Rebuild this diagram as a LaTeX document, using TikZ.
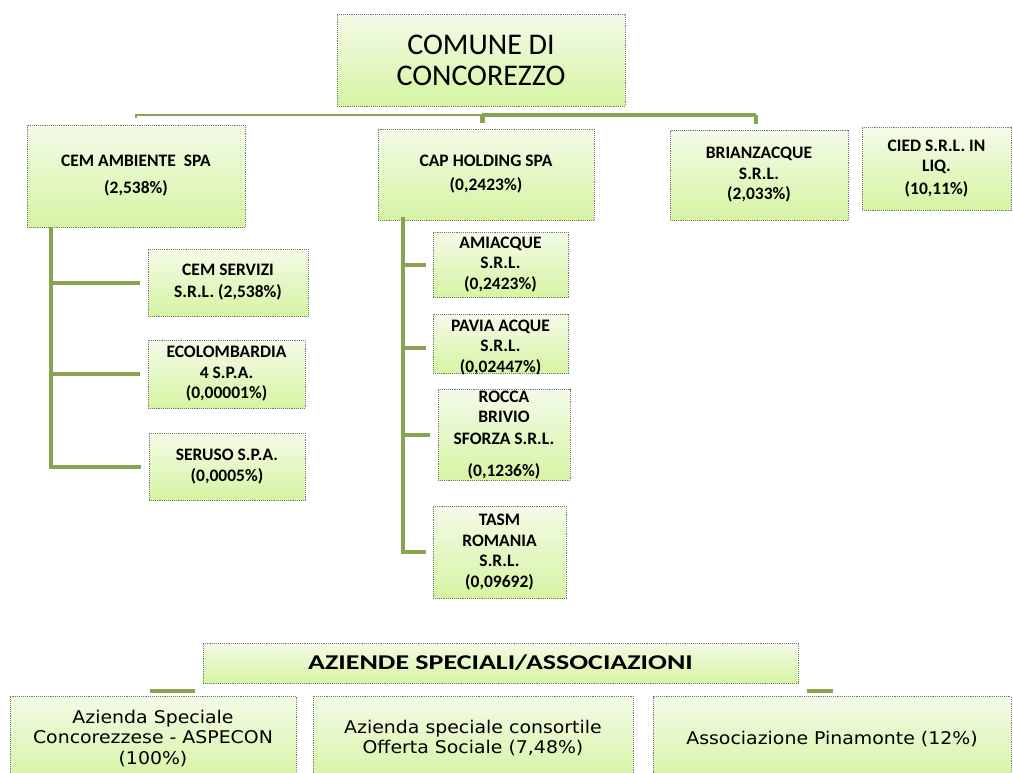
\documentclass[tikz,border=0pt]{standalone}
\usepackage{fontspec}
\setmainfont{Carlito}
\newfontfamily\boxfont{Carlito}
\newfontfamily\headfont[FakeStretch=1.33]{Carlito}
\newfontfamily\verdfont[FakeStretch=1.08]{DejaVu Sans}
\definecolor{lnk}{RGB}{137,164,78}
\definecolor{boxtop}{RGB}{243,251,232}
\definecolor{boxbot}{RGB}{214,244,163}
\definecolor{boxline}{RGB}{120,120,120}
\tikzset{
  orgbox/.style={rectangle, draw=boxline, densely dotted, line width=0.9pt,
    top color=boxtop, bottom color=boxbot, align=center, inner sep=1pt,
    font=\boxfont\bfseries\fontsize{17.5}{20.5}\selectfont},
  plainbox/.style={orgbox},
  boxtext/.style={align=center, inner sep=0pt, font=\boxfont\bfseries\fontsize{17.5}{20.5}\selectfont},
  bigbox/.style={orgbox, font=\fontsize{30}{31}\selectfont},
  headbox/.style={orgbox, font=\headfont\bfseries\fontsize{21}{24}\selectfont},
  wbox/.style={orgbox, font=\verdfont\fontsize{17.5}{20.5}\selectfont},
  link/.style={draw=lnk, line width=4pt},
  thinlink/.style={draw=lnk, line width=2.5pt},
  thicklink/.style={draw=lnk, line width=4.5pt},
}
\begin{document}
\begin{tikzpicture}[x=1pt,y=-1pt]
\useasboundingbox (0,0) rectangle (1013,772);
\clip (0,0) rectangle (1013,772);

% top
\node[bigbox, minimum width=288, minimum height=92] (comune) at (481,60) {COMUNE DI\\CONCOREZZO};

% first level
\node[orgbox, minimum width=218, minimum height=102] (cem) at (136,176) {CEM AMBIENTE\ \ SPA\\[6.5pt](2,538\%)};
\node[orgbox, minimum width=216, minimum height=91] (cap) at (486,174.5) {CAP HOLDING SPA\\[3.5pt](0,2423\%)};
\node[orgbox, minimum width=178, minimum height=90] (brianz) at (759,175) {BRIANZACQUE\\S.R.L.\\(2,033\%)};
\node[orgbox, minimum width=149, minimum height=83] (cied) at (936.5,168.5) {CIED S.R.L. IN\\LIQ.\\[2.5pt](10,11\%)};

% CEM children
\node[orgbox, minimum width=160, minimum height=67] (cemserv) at (228,282.5) {CEM SERVIZI\\[1.5pt]S.R.L. (2,538\%)};
\node[orgbox, minimum width=157, minimum height=68] (ecolomb) at (226.5,374) {ECOLOMBARDIA\\4 S.P.A.\\(0,00001\%)};
\node[orgbox, minimum width=156, minimum height=67] (seruso) at (227,466.5) {SERUSO S.P.A.\\(0,0005\%)};

% CAP children
\node[orgbox, minimum width=135, minimum height=65] (amiacque) at (500.5,264.5) {AMIACQUE\\S.R.L.\\(0,2423\%)};
\node[plainbox, minimum width=135, minimum height=59] (pavia) at (500.5,343.5) {};
\node[boxtext] (pavialbl) at (500.5,347.5) {PAVIA ACQUE\\S.R.L.\\(0,02447\%)};
\node[orgbox, minimum width=132, minimum height=80] (rocca) at (504,435) {ROCCA\\BRIVIO\\[1.5pt]SFORZA S.R.L.\\[11.5pt](0,1236\%)};
\node[orgbox, minimum width=133, minimum height=92] (tasm) at (499.5,552) {TASM\\ROMANIA\\S.R.L.\\(0,09692)};

% bottom
\node[headbox, minimum width=595, minimum height=40] (head) at (500.5,663) {AZIENDE SPECIALI/ASSOCIAZIONI};
\node[wbox, minimum width=286, minimum height=84] (aspecon) at (153,738) {Azienda Speciale\\Concorezzese - ASPECON\\(100\%)};
\node[wbox, minimum width=320, minimum height=84] (offerta) at (473,738) {Azienda speciale consortile\\Offerta Sociale (7,48\%)};
\node[wbox, minimum width=358, minimum height=84] (pinam) at (832,738.5) {Associazione Pinamonte (12\%)};

% top bus
\coordinate (busL) at (cem.north |- 0,115);
\coordinate (busM) at (482,115);
\coordinate (busR) at (756,115);
\draw[thinlink] (busL) -- (busM);
\draw[thicklink] (busM) -- (busR);
\draw[thinlink] ([yshift=1pt]busL) -- ++(0,4);
\draw[draw=lnk, line width=5pt] (busM) -- ++(0,8);
\draw[link] (busR) -- ++(0,9);

% CEM tree
\coordinate (ltop) at ([xshift=24pt]cem.south west);
\draw[link] (ltop) |- ([xshift=-8pt]seruso.west);
\draw[link] (ltop |- cemserv.west) -- ([xshift=-8pt]cemserv.west);
\draw[link] (ltop |- ecolomb.west) -- ([xshift=-8pt]ecolomb.west);

% CAP tree
\coordinate (mtop) at ([xshift=25pt,yshift=3pt]cap.south west);
\draw[link] (mtop) |- ([xshift=-7pt]tasm.west);
\draw[link] (mtop |- amiacque.west) -- ([xshift=-7pt]amiacque.west);
\draw[link] (mtop |- pavialbl.west) -- ([xshift=-7pt]pavia.west |- pavialbl.west);
\draw[link] (mtop |- rocca.west) -- ([xshift=-8pt]rocca.west);

% bottom stubs
\coordinate (stubA) at (150,691);
\coordinate (stubB) at (195,691);
\coordinate (stubC) at (807,691);
\coordinate (stubD) at (833,691);
\draw[link] (stubA) -- (stubB);
\draw[link] (stubC) -- (stubD);
\end{tikzpicture}
\end{document}
